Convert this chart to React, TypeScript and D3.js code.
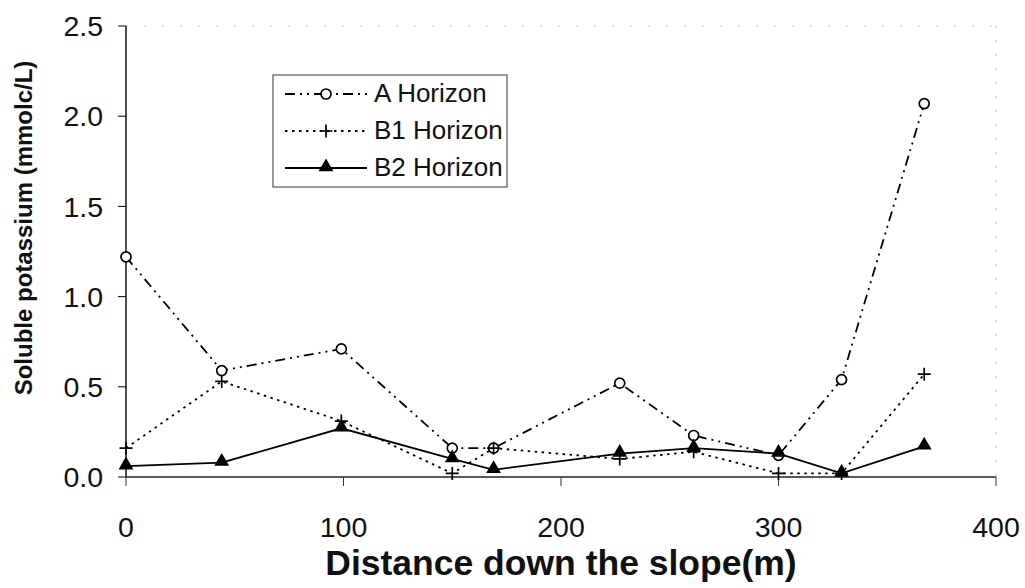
import React from 'react';
import * as d3 from 'd3';

// distance down the slope (m)
const distances = [0, 44, 99, 150, 169, 227, 261, 300, 329, 367];
const aHorizon = [1.22, 0.59, 0.71, 0.16, 0.16, 0.52, 0.23, 0.12, 0.54, 2.07];
const b1Horizon = [0.16, 0.53, 0.31, 0.02, 0.16, 0.1, 0.14, 0.02, 0.02, 0.57];
const b2Horizon = [0.06, 0.08, 0.27, 0.1, 0.04, 0.13, 0.16, 0.13, 0.02, 0.17];

const xTicks = [0, 100, 200, 300, 400];
const yTicks = [0, 0.5, 1.0, 1.5, 2.0, 2.5];
const seriesNames = ['A Horizon', 'B1 Horizon', 'B2 Horizon'];

const W = 1025;
const H = 588;
const FONT = '"Liberation Sans", Arial, sans-serif';

const x = d3.scaleLinear().domain([0, 400]).range([126, 996]);
const y = d3.scaleLinear().domain([0, 2.5]).range([477, 26]);

type Kind = 'circle' | 'plus' | 'triangle';

const series: { name: string; values: number[]; dash: string; kind: Kind }[] = [
  { name: seriesNames[0], values: aHorizon, dash: '10,5,2,5,2,5', kind: 'circle' },
  { name: seriesNames[1], values: b1Horizon, dash: '2.5,4.5', kind: 'plus' },
  { name: seriesNames[2], values: b2Horizon, dash: 'none', kind: 'triangle' },
];

const Marker: React.FC<{ kind: Kind; cx: number; cy: number }> = ({ kind, cx, cy }) => {
  if (kind === 'circle') {
    return <circle cx={cx} cy={cy} r={5} fill="#fff" stroke="#000" strokeWidth={1.7} />;
  }
  if (kind === 'plus') {
    return (
      <path
        d={`M${cx - 6.5},${cy}H${cx + 6.5}M${cx},${cy - 6.5}V${cy + 6.5}`}
        stroke="#000"
        strokeWidth={1.7}
        fill="none"
      />
    );
  }
  const sym = d3.symbol().type(d3.symbolTriangle).size(95)();
  return <path d={sym || ''} transform={`translate(${cx},${cy - 1})`} fill="#000" />;
};

export default function App() {
  const line = d3
    .line<number>()
    .x((_, i) => x(distances[i]))
    .y(d => y(d));

  return (
    <div style={{ position: 'absolute', left: 0, top: 0 }}>
      <svg width={W} height={H} style={{ display: 'block', background: '#fff' }} fontFamily={FONT}>
        {/* faint frame top/right */}
        <line x1={x(0)} x2={x(400)} y1={y(2.5)} y2={y(2.5)} stroke="#ccc" strokeWidth={1} strokeDasharray="2,16" />
        <line x1={x(400)} x2={x(400)} y1={y(2.5)} y2={y(0)} stroke="#bbb" strokeWidth={1} strokeDasharray="2,12" />

        {/* y axis */}
        <line x1={x(0)} x2={x(0)} y1={y(2.5)} y2={y(0)} stroke="#000" strokeWidth={1.4} />
        {yTicks.map(t => (
          <g key={t}>
            <line x1={x(0) - 8} x2={x(0)} y1={y(t)} y2={y(t)} stroke="#000" strokeWidth={1} />
            <text x={103} y={y(t)} dy="0.36em" textAnchor="end" fontSize={28.5} fill="#111">
              {d3.format('.1f')(t)}
            </text>
          </g>
        ))}

        {/* x axis */}
        <line x1={x(0)} x2={x(400)} y1={y(0)} y2={y(0)} stroke="#222" strokeWidth={1.4} />
        {xTicks.map(t => (
          <g key={t}>
            <line x1={x(t)} x2={x(t)} y1={y(0)} y2={y(0) + 9} stroke="#333" strokeWidth={1} />
            <text x={x(t)} y={537} textAnchor="middle" fontSize={28.5} fill="#111">
              {t}
            </text>
          </g>
        ))}

        <text x={x(200)} y={575} textAnchor="middle" fontSize={35.5} fontWeight="bold" fill="#111">
          Distance down the slope(m)
        </text>
        <text
          transform={`translate(32,228) rotate(-90)`}
          textAnchor="middle"
          fontSize={24}
          fontWeight="bold"
          fill="#111"
        >
          Soluble potassium (mmolc/L)
        </text>

        {/* series lines */}
        {series.map(s => (
          <path
            key={s.name}
            d={line(s.values) || ''}
            fill="none"
            stroke="#000"
            strokeWidth={1.8}
            strokeDasharray={s.dash}
          />
        ))}
        {series.map(s => (
          <g key={s.name + '-m'}>
            {s.values.map((v, i) => (
              <Marker key={i} kind={s.kind} cx={x(distances[i])} cy={y(v)} />
            ))}
          </g>
        ))}

        {/* legend */}
        <g>
          <rect x={273} y={75} width={234} height={112} fill="#fff" stroke="#555" strokeWidth={1.2} />
          {series.map((s, i) => {
            const ly = 93 + i * 37;
            return (
              <g key={s.name + '-l'}>
                <line
                  x1={285}
                  x2={367}
                  y1={ly + 1}
                  y2={ly + 1}
                  stroke="#000"
                  strokeWidth={1.8}
                  strokeDasharray={s.dash}
                />
                <Marker kind={s.kind} cx={326} cy={ly + 1} />
                <text x={374} y={ly} dy="0.36em" fontSize={26} fill="#111">
                  {s.name}
                </text>
              </g>
            );
          })}
        </g>
      </svg>
    </div>
  );
}
